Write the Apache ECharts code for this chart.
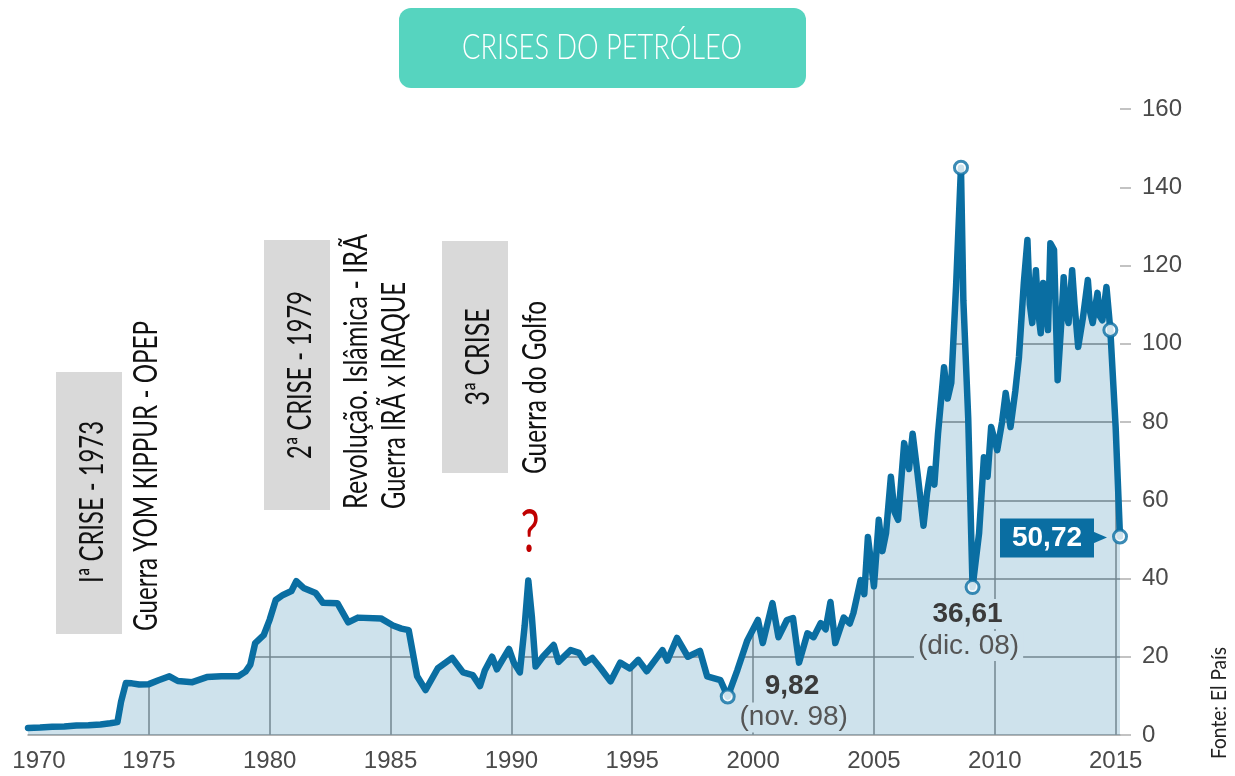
<!DOCTYPE html>
<html lang="pt">
<head>
<meta charset="UTF-8">
<title>Crises do petróleo</title>
<script src="https://cdn.jsdelivr.net/npm/echarts@6/dist/echarts.min.js"></script>
<style>
  html, body { margin: 0; padding: 0; background: #fff; }
  #chart { width: 1235px; height: 776px; }
</style>
</head>
<body>
<div id="chart"></div>
<script>
// preço do barril (US$)
var years = [
  1970.0, 1970.5, 1971.0, 1971.5, 1972.0, 1972.5, 1973.0, 1973.4, 1973.7, 1973.85,
  1974.05, 1974.3, 1974.6, 1975.0, 1975.4, 1975.85, 1976.2, 1976.8, 1977.4, 1978.0,
  1978.7, 1979.0, 1979.2, 1979.4, 1979.75, 1980.0, 1980.25, 1980.55, 1980.9, 1981.1,
  1981.4, 1981.9, 1982.2, 1982.8, 1983.25, 1983.65, 1984.6, 1985.1, 1985.45, 1985.75,
  1986.1, 1986.45, 1986.95, 1987.55, 1988.0, 1988.4, 1988.7, 1988.9, 1989.2, 1989.4,
  1989.9, 1990.1, 1990.35, 1990.55, 1990.7, 1990.85, 1991.0, 1991.3, 1991.75, 1991.95,
  1992.45, 1992.8, 1993.05, 1993.35, 1993.7, 1994.1, 1994.5, 1994.9, 1995.25, 1995.6,
  1996.25, 1996.45, 1996.85, 1997.3, 1997.8, 1998.1, 1998.65, 1998.95, 1999.35, 1999.75,
  2000.2, 2000.4, 2000.8, 2001.05, 2001.4, 2001.65, 2001.9, 2002.25, 2002.5, 2002.8,
  2003.0, 2003.2, 2003.4, 2003.75, 2004.0, 2004.15, 2004.45, 2004.6, 2004.75, 2005.0,
  2005.2, 2005.35, 2005.5, 2005.7, 2005.85, 2006.0, 2006.25, 2006.45, 2006.6, 2006.8,
  2007.05, 2007.2, 2007.35, 2007.5, 2007.65, 2007.9, 2008.05, 2008.2, 2008.4, 2008.6,
  2008.7, 2008.9, 2009.08, 2009.35, 2009.55, 2009.7, 2009.85, 2010.1, 2010.3, 2010.45,
  2010.65, 2010.85, 2011.0, 2011.2, 2011.35, 2011.45, 2011.55, 2011.7, 2011.8, 2011.9,
  2012.0, 2012.2, 2012.3, 2012.45, 2012.6, 2012.75, 2012.85, 2012.95, 2013.05, 2013.2,
  2013.3, 2013.45, 2013.65, 2013.85, 2013.95, 2014.05, 2014.25, 2014.35, 2014.45, 2014.62,
  2014.78, 2015.0, 2015.18
];
var prices = [
  1.8, 1.9, 2.1, 2.2, 2.4, 2.5, 2.7, 3.0, 3.3, 8.5,
  13.3, 13.2, 12.9, 13.0, 14.0, 15.0, 13.8, 13.5, 14.8, 15.0,
  15.0, 16.2, 18.0, 23.5, 25.5, 29.5, 34.5, 35.8, 36.8, 39.3,
  37.6, 36.3, 33.8, 33.7, 28.8, 30.0, 29.8, 28.0, 27.2, 26.8,
  15.0, 11.5, 17.0, 19.7, 16.0, 15.3, 12.5, 16.5, 20.0, 16.8,
  22.0, 18.5, 16.0, 28.0, 39.5, 30.0, 17.5, 20.0, 23.0, 18.7,
  21.7, 21.0, 18.5, 19.7, 17.0, 13.7, 18.5, 17.0, 19.2, 16.3,
  21.7, 19.0, 24.8, 20.0, 21.5, 15.0, 14.0, 9.82, 16.6, 24.0,
  29.4, 23.5, 33.7, 25.0, 29.4, 29.9, 18.5, 26.0, 25.0, 28.6,
  27.0, 34.0, 23.5, 30.0, 28.5, 31.2, 39.6, 36.0, 50.6, 38.0,
  55.0, 47.0, 51.6, 66.0, 57.0, 55.0, 74.6, 68.0, 77.0, 67.0,
  53.5, 62.0, 68.0, 64.0, 77.0, 94.0, 86.0, 90.0, 115.0, 145.0,
  111.0, 81.0, 37.8, 51.6, 71.0, 66.0, 78.7, 72.8, 80.0, 87.4,
  78.7, 88.0, 96.6, 115.5, 126.5, 110.0, 105.3, 118.8, 108.0, 102.7,
  115.5, 103.5, 125.7, 124.0, 90.7, 105.3, 117.0, 108.0, 105.3, 118.8,
  110.0, 99.2, 106.8, 116.3, 108.0, 105.3, 113.0, 107.0, 106.0, 114.5,
  103.5, 78.7, 50.72
];

// pontos destacados
var markYears = [1998.95, 2008.6, 2009.08, 2014.78, 2015.18];
var markValues = [9.82, 145.0, 37.8, 103.5, 50.72];

var yTicks = [0, 20, 40, 60, 80, 100, 120, 140, 160];

var blue = '#0a6ea2';
var fillBlend = 'rgb(206,226,236)';
var yMax = 160;

var lineData = years.map(function (x, k) { return [x, prices[k]]; });
var markData = markYears.map(function (x, k) { return [x, markValues[k]]; });

var chart = echarts.init(document.getElementById('chart'));

chart.setOption({
  animation: false,
  backgroundColor: '#fff',
  grid: { left: 28, right: 115, top: 109, bottom: 41 },
  xAxis: {
    type: 'value',
    min: 1970,
    max: 2015.18,
    interval: 5,
    axisLine: { show: true, lineStyle: { color: '#9a9a9a', width: 1.5 } },
    axisTick: { show: false },
    splitLine: { show: true, showMinLine: false, showMaxLine: false, lineStyle: { color: '#8c8c8c', width: 1.5 } },
    axisLabel: {
      margin: 14,
      color: '#4a4a4a',
      fontSize: 24,
      fontFamily: 'Liberation Sans, Arial, sans-serif',
      formatter: function (v) { return v === 1970 ? '{a|1970}' : String(v); },
      rich: { a: { fontSize: 24, color: '#4a4a4a', fontFamily: 'Liberation Sans, Arial, sans-serif', padding: [0, 0, 0, 22] } }
    }
  },
  yAxis: {
    type: 'value',
    position: 'right',
    min: 0,
    max: yMax,
    interval: 20,
    axisLine: { show: false },
    axisTick: { show: true, length: 11, lineStyle: { color: '#b0b0b0', width: 1.5 } },
    splitLine: { show: true, showMinLine: false, showMaxLine: false, lineStyle: { color: '#8c8c8c', width: 1.5 } },
    axisLabel: {
      margin: 22,
      color: '#4a4a4a',
      fontSize: 24,
      fontFamily: 'Liberation Sans, Arial, sans-serif',
      formatter: function (v) { return yTicks.indexOf(v) >= 0 ? String(v) : ''; }
    }
  },
  series: [
    {
      // área azul clara sob a curva (translúcida, deixa ver a grade)
      name: 'fill', type: 'line', data: lineData, symbol: 'none',
      lineStyle: { opacity: 0 },
      areaStyle: { color: 'rgba(10,110,162,0.2)', opacity: 1, origin: 'start' },
      silent: true
    },
    {
      // branco acima da curva: esconde a grade fora da área
      name: 'mask', type: 'line', data: lineData, symbol: 'none',
      lineStyle: { opacity: 0 },
      areaStyle: { color: '#ffffff', opacity: 1, origin: 'end' },
      silent: true
    },
    {
      name: 'preço', type: 'line', data: lineData, symbol: 'none',
      lineStyle: { color: blue, width: 6.5, join: 'round', cap: 'round' }
    },
    {
      name: 'marcas', type: 'scatter', data: markData, symbol: 'circle', symbolSize: 13,
      itemStyle: { color: '#fff', borderColor: blue, borderWidth: 3 },
      z: 5
    }
  ]
});

// medir texto para comprimir a fonte (aspecto condensado)
var mctx = document.createElement('canvas').getContext('2d');
function fitScale(text, size, weight, family, target) {
  mctx.font = weight + ' ' + size + 'px ' + family;
  return target / mctx.measureText(text).width;
}

var condFont = 'Lato';
function vText(text, x, y, size, target, align, opts) {
  opts = opts || {};
  var weight = opts.weight || 400;
  return {
    type: 'text',
    x: x, y: y,
    rotation: Math.PI / 2,
    scaleX: fitScale(text, size, weight, condFont, target),
    z: 20,
    style: {
      text: text,
      fontSize: size,
      fontFamily: condFont,
      fontWeight: weight,
      fill: opts.color || '#111',
      align: align, textAlign: align,
      verticalAlign: 'middle', textVerticalAlign: 'middle'
    }
  };
}

var els = [];
// título
els.push({ type: 'rect', shape: { x: 399, y: 8, width: 407, height: 80, r: 12 }, style: { fill: '#56d4bf' }, z: 20 });
els.push({
  type: 'text', x: 602, y: 47, z: 21,
  scaleX: fitScale('CRISES DO PETRÓLEO', 36, 300, condFont, 280),
  style: { text: 'CRISES DO PETRÓLEO', fontSize: 36, fontFamily: condFont, fontWeight: 300, fill: '#fff',
    align: 'center', textAlign: 'center', verticalAlign: 'middle', textVerticalAlign: 'middle' }
});

// caixas das crises
els.push({ type: 'rect', shape: { x: 56, y: 372, width: 66, height: 262 }, style: { fill: '#d9d9d9' }, z: 19 });
els.push({ type: 'rect', shape: { x: 264, y: 240, width: 66, height: 270 }, style: { fill: '#d9d9d9' }, z: 19 });
els.push({ type: 'rect', shape: { x: 442, y: 241, width: 66, height: 232 }, style: { fill: '#d9d9d9' }, z: 19 });

els.push(vText('Iª CRISE - 1973', 92, 502, 33, 162, 'center'));
els.push(vText('Guerra YOM KIPPUR - OPEP', 146, 631, 33, 310, 'left'));
els.push(vText('2ª CRISE - 1979', 300, 375, 33, 168, 'center'));
els.push(vText('Revolução. Islâmica - IRÃ', 356, 509, 33, 275, 'left'));
els.push(vText('Guerra IRÃ x IRAQUE', 394, 509, 33, 227, 'left'));
els.push(vText('3ª CRISE', 478, 357, 33, 97, 'center'));
els.push(vText('Guerra do Golfo', 535, 474, 33, 173, 'left'));
els.push(vText('Fonte: El País', 1219, 759, 22, 112, 'left', { color: '#222' }));

// ponto de interrogação
els.push({
  type: 'text', x: 530, y: 533, z: 20,
  scaleX: fitScale('?', 60, 400, condFont, 19),
  style: { text: '?', fontSize: 60, fontFamily: condFont, fill: '#c00000',
    align: 'center', textAlign: 'center', verticalAlign: 'middle', textVerticalAlign: 'middle' }
});

// rótulos dos pontos, posicionados a partir dos dados
var p0 = chart.convertToPixel({ gridIndex: 0 }, markData[0]);
var p2 = chart.convertToPixel({ gridIndex: 0 }, markData[2]);
var p4 = chart.convertToPixel({ gridIndex: 0 }, markData[4]);
var lblFont = 'Liberation Sans, Arial, sans-serif';

function dataLabel(text, x, y, align, bold, color) {
  return {
    type: 'text', x: x, y: y, z: 12,
    style: {
      text: text, fontSize: 28, fontFamily: lblFont, fontWeight: bold ? 'bold' : 'normal',
      fill: color, backgroundColor: fillBlend, padding: [1, 4],
      align: align, textAlign: align, verticalAlign: 'middle', textVerticalAlign: 'middle'
    }
  };
}
els.push(dataLabel('9,82', p0[0] + 33, p0[1] - 10, 'left', true, '#3a3a3a'));
els.push(dataLabel('(nov. 98)', p0[0] + 66, p0[1] + 21, 'center', false, '#555'));
els.push(dataLabel('36,61', p2[0] - 5, p2[1] + 27, 'center', true, '#3a3a3a'));
els.push(dataLabel('(dic. 08)', p2[0] - 4, p2[1] + 59, 'center', false, '#555'));

// caixa do último valor
els.push({ type: 'rect', shape: { x: p4[0] - 120, y: p4[1] - 18, width: 94, height: 39 }, style: { fill: blue }, z: 12 });
els.push({ type: 'polygon', shape: { points: [[p4[0] - 27, p4[1] - 5], [p4[0] - 13, p4[1] + 1], [p4[0] - 27, p4[1] + 7]] }, style: { fill: blue }, z: 12 });
els.push({
  type: 'text', x: p4[0] - 73, y: p4[1] + 1.5, z: 13,
  style: { text: '50,72', fontSize: 28, fontFamily: lblFont, fontWeight: 'bold', fill: '#fff',
    align: 'center', textAlign: 'center', verticalAlign: 'middle', textVerticalAlign: 'middle' }
});

chart.setOption({ graphic: { elements: els } });
</script>
</body>
</html>
